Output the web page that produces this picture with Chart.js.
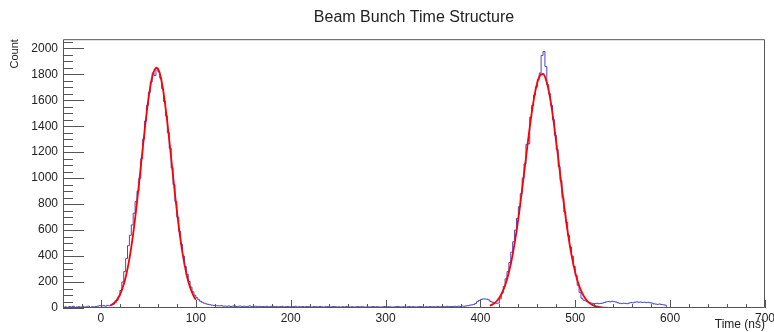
<!DOCTYPE html>
<html>
<head>
<meta charset="utf-8">
<title>Beam Bunch Time Structure</title>
<script src="https://cdn.jsdelivr.net/npm/chart.js@4.4.0/dist/chart.umd.min.js"></script>
<style>
  html, body { margin: 0; padding: 0; background: #fff; }
  #wrap { width: 774px; height: 332px; }
</style>
</head>
<body>
<div id="wrap"><canvas id="bunchChart" width="774" height="332"></canvas></div>
<script>
// Histogram: 2 ns bins, first bin starts at -40 ns
const binStart = -40;
const binWidth = 2;

// -40 .. -2 ns
const preCounts = [6, 9, 4, 11, 7, 13, 5, 8, 10, 6, 12, 7, 9, 14, 5, 10, 8, 12, 15, 18];
// 0 .. 128 ns (first bunch)
const peak1Counts = [
  15, 18, 14, 20, 17, 22, 28, 40, 58, 88,
  135, 200, 280, 380, 480, 560, 640, 730, 820, 900,
  1000, 1150, 1300, 1440, 1560, 1660, 1740, 1810, 1790, 1845,
  1820, 1770, 1690, 1590, 1480, 1350, 1230, 1080, 950, 820,
  700, 590, 490, 400, 320, 260, 205, 160, 125, 98,
  80, 64, 52, 44, 37, 32, 28, 25, 22, 20,
  19, 17, 16, 18, 14
];
// 130 .. 388 ns (flat background)
const flatCounts = [
  15, 13, 16, 12, 14, 17, 11, 13, 15, 12, 14, 10, 13, 16, 11, 12, 14, 10, 13, 11,
  12, 10, 13, 9, 11, 14, 10, 12, 9, 11, 13, 8, 10, 12, 9, 11, 10, 13, 8, 10,
  9, 11, 8, 12, 10, 7, 9, 11, 10, 8, 12, 9, 7, 10, 11, 8, 9, 12, 10, 8,
  9, 7, 10, 8, 11, 9, 8, 10, 7, 9, 11, 8, 10, 9, 7, 10, 8, 9, 11, 8,
  10, 8, 7, 9, 11, 8, 10, 9, 7, 8, 10, 12, 9, 8, 10, 7, 9, 11, 8, 10,
  9, 8, 10, 12, 9, 7, 10, 8, 11, 9, 10, 8, 12, 9, 10, 11, 9, 13, 10, 12,
  11, 13, 10, 14, 12, 15, 13, 16, 18, 22
];
// 390 .. 418 ns (small bump)
const bumpCounts = [24, 26, 35, 50, 58, 66, 70, 69, 68, 62, 50, 44, 40, 36, 38];
// 420 .. 518 ns (second bunch)
const peak2Counts = [
  70, 115, 165, 225, 280, 350, 430, 510, 600, 690,
  780, 880, 1000, 1110, 1260, 1265, 1470, 1560, 1640, 1700,
  1760, 1810, 1945, 1975, 1860, 1720, 1650, 1560, 1450, 1330,
  1220, 1090, 980, 850, 740, 660, 560, 470, 400, 320,
  250, 175, 120, 75, 60, 55, 48, 42, 38, 35
];
// 520 .. 598 ns (tail)
const tailCounts = [
  34, 36, 33, 35, 38, 42, 48, 50, 47, 52,
  49, 46, 40, 36, 34, 37, 35, 33, 38, 42,
  40, 45, 47, 44, 46, 43, 45, 41, 44, 40,
  38, 32, 30, 28, 31, 27, 25, 22, 0, 0
];

// Gaussian fits (red curves)
const fit1Times = [10, 14, 18, 22, 26, 30, 34, 38, 42, 46, 50, 54, 58.5, 62, 66, 70, 74, 78, 82, 86, 90, 94, 98, 100];
const fit1Values = [19, 39, 75, 137, 235, 379, 573, 814, 1087, 1364, 1607, 1778, 1850, 1806, 1657, 1429, 1157, 880, 629, 422, 266, 158, 88, 64];
const fit2Times = [410, 414, 418, 422, 426, 430, 434, 438, 442, 446, 450, 454, 458, 462, 466, 470, 474, 478, 482, 486, 490, 494, 498, 502, 506, 510, 514, 518, 522, 526, 530, 536, 542, 548];
const fit2Values = [17, 33, 60, 104, 173, 273, 410, 586, 798, 1034, 1276, 1498, 1674, 1780, 1802, 1737, 1593, 1391, 1156, 914, 688, 493, 336, 218, 135, 79, 44, 24, 12, 6, 3, 1, 0, 0];

// axis ticks
const xTicks = [0, 100, 200, 300, 400, 500, 600, 700];
const yTicks = [0, 200, 400, 600, 800, 1000, 1200, 1400, 1600, 1800, 2000];
const xMinorStep = 20;
const yMinorStep = 50;

const counts = [].concat(preCounts, peak1Counts, flatCounts, bumpCounts, peak2Counts, tailCounts);
const histPoints = counts.map((c, i) => ({ x: binStart + i * binWidth, y: c }));
histPoints.push({ x: binStart + counts.length * binWidth, y: 0 });

const toPoints = (xs, ys) => xs.map((t, i) => ({ x: t, y: ys[i] }));

Chart.defaults.font.family = "'Liberation Sans', Arial, Helvetica, sans-serif";
Chart.defaults.color = '#222';

// ROOT style frame with inward ticks
const rootFrame = {
  id: 'rootFrame',
  afterDatasetsDraw(chart) {
    const { ctx, chartArea: a, scales: { x, y } } = chart;
    ctx.save();
    ctx.strokeStyle = '#555';
    ctx.lineWidth = 1;
    ctx.beginPath();
    ctx.rect(a.left + 0.5, a.top + 0.5, a.right - a.left - 1, a.bottom - a.top - 1);
    for (let v = x.min; v <= x.max; v += xMinorStep) {
      const px = Math.round(x.getPixelForValue(v)) + 0.5;
      const len = xTicks.includes(v) ? 8 : 4;
      ctx.moveTo(px, a.bottom);
      ctx.lineTo(px, a.bottom - len);
    }
    for (let v = 0; v <= y.max; v += yMinorStep) {
      const py = Math.round(y.getPixelForValue(v)) + 0.5;
      const len = yTicks.includes(v) ? 21 : 10;
      ctx.moveTo(a.left, py);
      ctx.lineTo(a.left + len, py);
    }
    ctx.stroke();
    ctx.restore();
  }
};

new Chart(document.getElementById('bunchChart'), {
  type: 'line',
  data: {
    datasets: [
      {
        label: 'fit 1',
        data: toPoints(fit1Times, fit1Values),
        borderColor: '#ff0000',
        borderWidth: 1.8,
        pointRadius: 0,
        cubicInterpolationMode: 'monotone',
        order: 0
      },
      {
        label: 'fit 2',
        data: toPoints(fit2Times, fit2Values),
        borderColor: '#ff0000',
        borderWidth: 1.8,
        pointRadius: 0,
        cubicInterpolationMode: 'monotone',
        order: 1
      },
      {
        label: 'Count',
        data: histPoints,
        borderColor: 'rgba(40, 40, 200, 0.85)',
        borderWidth: 1,
        pointRadius: 0,
        stepped: true,
        order: 2
      }
    ]
  },
  options: {
    responsive: false,
    animation: false,
    events: [],
    layout: { padding: { left: 0, right: 9, top: 0, bottom: 0 } },
    plugins: {
      legend: { display: false },
      tooltip: { enabled: false },
      title: {
        display: true,
        text: 'Beam Bunch Time Structure',
        fullSize: false,
        color: '#222',
        font: { size: 16, weight: 'normal' },
        padding: { top: 8, bottom: 12 }
      }
    },
    scales: {
      x: {
        type: 'linear',
        min: -40,
        max: 700,
        grid: { display: false, drawTicks: false },
        border: { display: false },
        ticks: { font: { size: 12 }, padding: 3, maxRotation: 0, autoSkip: false, color: '#222', callback: v => String(v) },
        title: { display: true, text: 'Time (ns)', align: 'end', font: { size: 12 }, padding: { top: 0, bottom: 0 }, color: '#222' },
        afterBuildTicks: s => { s.ticks = xTicks.map(v => ({ value: v })); },
        afterFit: s => { s.height = 24; s.paddingLeft = 0; s.paddingRight = 0; }
      },
      y: {
        type: 'linear',
        min: 0,
        max: 2070,
        grid: { display: false, drawTicks: false },
        border: { display: false },
        ticks: { font: { size: 12 }, padding: 5, autoSkip: false, color: '#222', callback: v => String(v) },
        title: { display: true, text: 'Count', align: 'end', font: { size: 11 }, padding: { top: 8, bottom: 0 }, color: '#222' },
        afterBuildTicks: s => { s.ticks = yTicks.map(v => ({ value: v })); },
        afterFit: s => { s.width = 63; }
      }
    }
  },
  plugins: [rootFrame]
});
</script>
</body>
</html>
